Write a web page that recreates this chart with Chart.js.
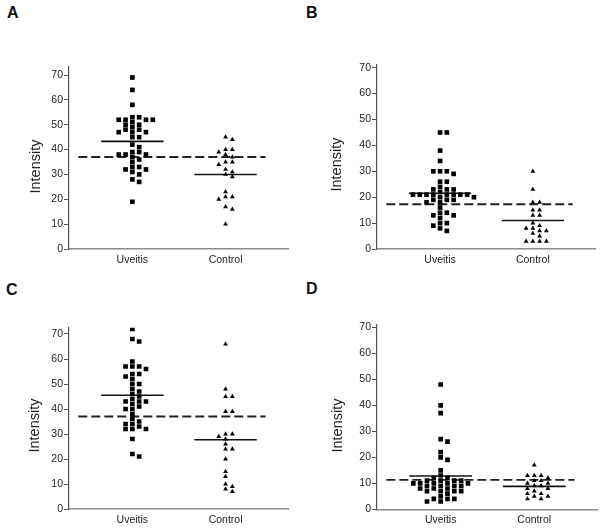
<!DOCTYPE html>
<html><head><meta charset="utf-8">
<script src="https://cdn.jsdelivr.net/npm/chart.js@4"></script>
<style>
body{margin:0;background:#fff;width:602px;height:532px;position:relative;overflow:hidden;font-family:"Liberation Sans",Arial,sans-serif}
canvas{position:absolute}
.lab{position:absolute;font-weight:bold;font-size:16px;color:#111;line-height:18px}
</style></head><body>
<div class="lab" style="left:7px;top:4px">A</div>
<div class="lab" style="left:306px;top:4px">B</div>
<div class="lab" style="left:6px;top:281px">C</div>
<div class="lab" style="left:306px;top:280px">D</div>
<canvas id="cA" width="300" height="270" style="left:0;top:0;width:300px;height:270px"></canvas>
<canvas id="cB" width="302" height="270" style="left:300px;top:0;width:302px;height:270px"></canvas>
<canvas id="cC" width="300" height="262" style="left:0;top:270px;width:300px;height:262px"></canvas>
<canvas id="cD" width="302" height="262" style="left:300px;top:270px;width:302px;height:262px"></canvas>
<script>
// ---- data ----
const categories = ['Uveitis', 'Control'];
const yTicks = [0, 10, 20, 30, 40, 50, 60, 70];
const axisTitle = 'Intensity';

const uveitisA = [69,64,58,53,53,52,52,52,52,51,50,50,49,48,48,47,47,47,45,45,42,41,39,39,38,38,38,37,36,35,33,33,32,32,31,30,28,27,19];
const controlA = [45,44,40,40,39,38,37,35,35,34,32,31,30,29,23,21,21,20,17,16,10];
const meanA = [43.3, 30];
const cutoffA = 37;

const uveitisB = [45,45,38,34,30,30,30,29,26,26,24,23,23,23,22,21,21,21,21,21,21,21,21,20,20,19,19,19,18,18,16,14,14,13,13,12,10,10,9,8,7];
const controlB = [30,23,18,18,15,15,13,13,10,9,8,8,7,7,6,5,3,3,3,3];
const meanB = [21.5, 11];
const cutoffB = 17.3;

const uveitisC = [72,68,67,59,57,57,57,56,54,54,53,52,50,50,48,47,46,45,44,43,43,43,42,41,40,40,38,36,35,34,34,33,32,32,32,28,22,21];
const controlC = [66,48,45,45,39,39,30,30,29,28,26,24,24,20,15,13,10,9,8,7];
const meanC = [45.5, 27.7];
const cutoffC = 37;

const uveitisD = [48,40,37,27,26,22,20,19,15,13,12,12,11,11,11,11,10,10,10,10,10,9,9,9,9,8,8,8,7,7,7,7,6,5,4,4,4,3,3];
const controlD = [17,13,13,13,12,11,11,10,10,9,9,8,8,7,6,6,5,5,4,4];
const meanD = [12.8, 8.8];
const cutoffD = 11.3;

// ---- layout helpers ----
const FONT = '"Liberation Sans", Arial, sans-serif';
const STEP = 0.073;   // horizontal swarm spacing (category units)
const HALF = 0.335;   // half width of mean line
const X_MIN = 0.32, X_MAX = 2.67;
const CUT_FROM = 0.42, CUT_TO = 2.43;

function swarm(values, center, thr) {
  const placed = [], out = [];
  const order = values.map((v, i) => i).sort((a, b) => values[b] - values[a]);
  for (const idx of order) {
    const v = values[idx];
    for (let k = 0; k < 40; k++) {
      const c = k === 0 ? 0 : (k % 2 ? (k + 1) / 2 : -k / 2);
      const off = c * STEP;
      if (!placed.some(p => Math.abs(p.y - v) < thr && Math.abs(p.x - off) < STEP * 0.9)) {
        placed.push({x: off, y: v});
        out.push({x: center + off, y: v});
        break;
      }
    }
  }
  return out;
}

function makePanel(id, u, c, means, cut, L) {
  const ppu = (L.bottom - L.top70) / 70;
  const thr = 4.3 / ppu;
  const yMax = 70 + (L.top70 - L.axisTop) / ppu;
  const line = (x0, x1, y, dash) => ({
    type: 'line', data: [{x: x0, y: y}, {x: x1, y: y}], borderColor: dash ? '#222' : '#111',
    borderWidth: dash ? 1.9 : 1.6, borderDash: dash ? [9, 4] : [], pointRadius: 0, fill: false, order: 1
  });
  const titlePlugin = {
    id: 'ytitle',
    afterDraw(chart) {
      const ctx = chart.ctx;
      ctx.save();
      ctx.translate(L.titleX, L.titleY);
      ctx.rotate(-Math.PI / 2);
      ctx.font = '14.5px ' + FONT;
      ctx.fillStyle = '#222';
      ctx.textAlign = 'center';
      ctx.textBaseline = 'middle';
      ctx.fillText(axisTitle, 0, 0);
      ctx.restore();
    }
  };
  new Chart(document.getElementById(id), {
    type: 'scatter',
    data: {
      datasets: [
        {type: 'scatter', data: swarm(u, 1, thr), pointStyle: 'rect', pointRadius: 3.3, backgroundColor: '#000', borderWidth: 0, order: 0},
        {type: 'scatter', data: swarm(c, 2, thr), pointStyle: 'triangle', pointRadius: 2.8, backgroundColor: '#000', borderWidth: 0, order: 0},
        line(1 - HALF, 1 + HALF, means[0], false),
        line(2 - HALF, 2 + HALF, means[1], false),
        line(CUT_FROM, CUT_TO, cut, true)
      ]
    },
    plugins: [titlePlugin],
    options: {
      responsive: false, animation: false,
      layout: {padding: {left: 0, top: L.axisTop, right: L.w - L.right, bottom: 0}},
      plugins: {legend: {display: false}, tooltip: {enabled: false}},
      scales: {
        x: {
          type: 'linear', min: X_MIN, max: X_MAX,
          grid: {display: false, drawTicks: false},
          border: {display: true, color: '#8c8c8c', width: 1.5},
          ticks: {padding: 5, color: '#222', font: {family: FONT, size: 10.5}, callback: v => categories[Math.round(v) - 1]},
          afterBuildTicks: s => { s.ticks = categories.map((_, i) => ({value: i + 1})); },
          afterFit: s => { s.height = L.h - L.bottom; }
        },
        y: {
          type: 'linear', min: 0, max: yMax,
          grid: {display: true, drawOnChartArea: false, drawTicks: true, tickLength: 5, color: '#555', lineWidth: 1},
          border: {display: true, color: '#555', width: 1.2},
          ticks: {padding: 1, color: '#222', font: {family: FONT, size: 10.5}},
          afterBuildTicks: s => { s.ticks = yTicks.map(v => ({value: v})); },
          afterFit: s => { s.width = L.left; },
          title: {display: false}
        }
      }
    }
  });
}

makePanel('cA', uveitisA, controlA, meanA, cutoffA, {w: 300, h: 270, left: 69, right: 288, top70: 75, axisTop: 67, bottom: 249, titleX: 36, titleY: 166.5});
makePanel('cB', uveitisB, controlB, meanB, cutoffB, {w: 302, h: 270, left: 77, right: 295, top70: 67.7, axisTop: 65, bottom: 249, titleX: 37, titleY: 164.5});
makePanel('cC', uveitisC, controlC, meanC, cutoffC, {w: 300, h: 262, left: 69, right: 288, top70: 64, axisTop: 57.7, bottom: 239, titleX: 35, titleY: 155.5});
makePanel('cD', uveitisD, controlD, meanD, cutoffD, {w: 302, h: 262, left: 77, right: 297, top70: 57.3, axisTop: 55, bottom: 239.3, titleX: 38, titleY: 155.5});
</script>
</body></html>
